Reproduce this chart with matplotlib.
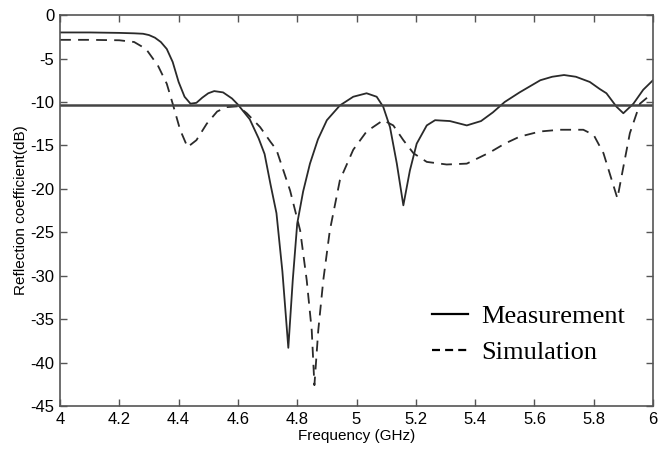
import matplotlib
matplotlib.use("Agg")
import matplotlib.pyplot as plt
from matplotlib.lines import Line2D

freq_meas = [4.00, 4.10, 4.20, 4.25, 4.28, 4.30, 4.32, 4.34, 4.36, 4.38, 4.40, 4.42, 4.44, 4.46, 4.48,
             4.50, 4.52, 4.55, 4.58, 4.60, 4.64, 4.67, 4.69, 4.71, 4.73, 4.75, 4.77, 4.785, 4.80,
             4.82, 4.843, 4.87, 4.90, 4.944, 4.989, 5.034, 5.068, 5.09, 5.113, 5.136, 5.158, 5.18, 5.203,
             5.237, 5.265, 5.315, 5.372, 5.42, 5.46, 5.50, 5.55, 5.62, 5.66, 5.70, 5.74, 5.787, 5.82,
             5.843, 5.877, 5.90, 5.934, 5.967, 6.00]
s11_meas = [-2.0, -2.0, -2.05, -2.1, -2.15, -2.3, -2.6, -3.1, -3.9, -5.4, -7.7, -9.4, -10.2, -10.1, -9.5,
            -9.0, -8.75, -8.9, -9.6, -10.3, -12.0, -14.2, -16.0, -19.5, -22.8, -29.5, -38.3, -30.5, -24.0,
            -20.3, -17.1, -14.3, -12.1, -10.4, -9.4, -9.0, -9.4, -10.55, -12.9, -17.1, -21.9, -17.9, -14.8,
            -12.7, -12.1, -12.2, -12.7, -12.2, -11.2, -10.0, -8.9, -7.5, -7.1, -6.9, -7.1, -7.7, -8.5,
            -9.0, -10.55, -11.3, -10.2, -8.6, -7.5]

freq_sim = [4.00, 4.10, 4.20, 4.25, 4.29, 4.33, 4.36, 4.38, 4.405, 4.43, 4.46, 4.495, 4.53, 4.56, 4.60,
            4.63, 4.675, 4.71, 4.73, 4.776, 4.81, 4.832, 4.849, 4.858, 4.871, 4.888, 4.91, 4.944,
            4.989, 5.034, 5.09, 5.124, 5.158, 5.192, 5.237, 5.304, 5.372, 5.45, 5.50, 5.55,
            5.619, 5.686, 5.765, 5.80, 5.833, 5.861, 5.88, 5.90, 5.922, 5.956, 5.984]
s11_sim = [-2.85, -2.85, -2.9, -3.1, -3.9, -5.8, -7.9, -10.2, -13.2, -15.2, -14.4, -12.5, -11.1, -10.6, -10.5,
           -11.3, -12.9, -14.6, -15.5, -20.2, -24.8, -30.5, -36.3, -42.6, -36.3, -30.5, -24.8, -19.0,
           -15.5, -13.4, -12.1, -12.7, -14.4, -15.9, -16.9, -17.2, -17.1, -15.8, -14.8, -14.0,
           -13.4, -13.2, -13.2, -13.8, -15.9, -19.0, -21.1, -17.5, -13.6, -10.2, -9.4]

ref_level = -10.3
xticks = [4, 4.2, 4.4, 4.6, 4.8, 5, 5.2, 5.4, 5.6, 5.8, 6]
xtick_labels = ["4", "4.2", "4.4", "4.6", "4.8", "5", "5.2", "5.4", "5.6", "5.8", "6"]
yticks = [0, -5, -10, -15, -20, -25, -30, -35, -40, -45]
ytick_labels = ["0", "-5", "-10", "-15", "-20", "-25", "-30", "-35", "-40", "-45"]
legend_labels = ["Measurement", "Simulation"]

sans = ["Liberation Sans", "DejaVu Sans"]
serif = ["Liberation Serif", "DejaVu Serif"]
col = "#2a2a2a"

fig = plt.figure(figsize=(6.7, 4.57), dpi=100)
ax = fig.add_axes([0.0896, 0.1116, 0.885, 0.8554])

ax.plot(freq_meas, s11_meas, color=col, lw=1.3)
ax.plot(freq_sim, s11_sim, color=col, lw=1.3, linestyle=(0, (6, 4)))
ax.axhline(ref_level, color="#444444", lw=1.8)

ax.set_xlim(4, 6)
ax.set_ylim(-45, 0)
ax.set_xticks(xticks)
ax.set_xticklabels(xtick_labels, family=sans, fontsize=12)
ax.set_yticks(yticks)
ax.set_yticklabels(ytick_labels, family=sans, fontsize=12)
ax.tick_params(direction="in", top=True, right=True, length=5, width=1, color="#555555", pad=4)
for s in ax.spines.values():
    s.set_color("#555555")
    s.set_linewidth(1.2)

ax.set_xlabel("Frequency (GHz)", family=sans, fontsize=11, labelpad=2)
ax.set_ylabel("Reflection coefficient(dB)", family=sans, fontsize=11, labelpad=2)

handles = [Line2D([], [], color="black", lw=1.6),
           Line2D([], [], color="black", lw=1.6, linestyle=(0, (3.6, 2.3)))]
leg = ax.legend(handles, legend_labels, loc="upper left",
                bbox_to_anchor=(0.627, 0.26), frameon=False,
                prop={"family": serif, "size": 19}, handlelength=1.36,
                handletextpad=0.53, labelspacing=0.48, borderpad=0, borderaxespad=0)

fig.savefig("out.png", dpi=100)
